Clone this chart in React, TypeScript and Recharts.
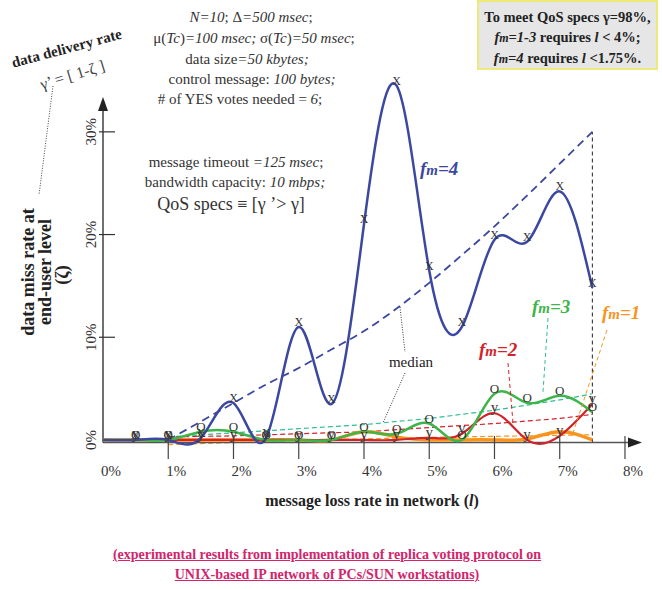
import React from "react";
import { ComposedChart, Line, XAxis, YAxis, ReferenceLine, ReferenceDot } from "recharts";

// message loss rate in network (%), one row per measured point
const lossRate = [0, 0.5, 1, 1.5, 2, 2.5, 3, 3.5, 4, 4.5, 5, 5.5, 6, 6.5, 7, 7.5];

// data miss rate at end-user level (%), per fault count fm
const fm4 = [0, 0, 0, 0.2, 3.6, 0.2, 11, 3.5, 21, 34.5, 16.5, 11, 19.5, 19.3, 24.2, 14.8];
const fm3 = [0, 0, 0, 0.8, 0.8, 0, 0, 0, 0.8, 0.6, 1.6, 0, 4.5, 3.6, 4.3, 2.7];
const fm2 = [0, 0, 0, 0, 0, 0, 0, 0, 0, 0, 0.2, 0.6, 2.6, 0, 0.4, 3.5];
const fm1 = [0, 0, 0, 0, 0, 0, 0, 0, 0.8, 0.3, 0, 0, 0, 0.1, 0.8, 0];

// median trend lines (start at 1%)
const med4 = [null, null, 0, 1.8, 3.6, 5.4, 7.0, 8.8, 10.6, 12.8, 15.3, 18.0, 20.8, 23.8, 26.9, 30];
const med3 = [null, null, 0.3, 0.5, 0.7, 0.9, 1.1, 1.3, 1.5, 1.8, 2.1, 2.5, 2.9, 3.4, 3.9, 4.5];
const med2 = [null, null, 0.3, 0.35, 0.4, 0.5, 0.6, 0.7, 0.8, 1.0, 1.2, 1.4, 1.6, 1.85, 2.1, 2.5];
const med1 = [null, null, -0.45, -0.35, -0.25, -0.15, -0.05, 0.05, 0.1, 0.18, 0.25, 0.3, 0.35, 0.4, 0.45, 0.5];

const xTicks = [0, 1, 2, 3, 4, 5, 6, 7, 8];
const yTicks = [0, 10, 20, 30];

const rows = lossRate.map((l, i) => ({
  l,
  fm4: fm4[i],
  fm3: fm3[i],
  fm2: fm2[i],
  fm1: fm1[i],
  med4: med4[i],
  med3: med3[i],
  med2: med2[i],
  med1: med1[i],
}));

const SERIF = "'Liberation Serif', 'DejaVu Serif', serif";
const BLUE = "#3c48a0";
const GREEN = "#3db54a";
const TEAL = "#2fbf91";
const RED = "#d2232a";
const ORANGE = "#f7941d";

const letterDot = (ch: string, size: number) => (props: any) => {
  const { cx, cy, index, payload } = props;
  if (cx == null || cy == null || payload.l < 0.5) return <g key={index} />;
  return (
    <text key={index} x={cx} y={cy - 1} textAnchor="middle" fontSize={size} fontFamily={SERIF} fill="#333">
      {ch}
    </text>
  );
};

const XTick = (props: any) => {
  const { x, payload } = props;
  const v = payload.value;
  return (
    <g>
      {v !== 0 && <line x1={x} x2={x} y1={436} y2={459} stroke="#444" strokeWidth={1.2} />}
      <text x={x + 8} y={476} textAnchor="middle" fontSize={15} fontFamily={SERIF} fill="#333">
        {v}%
      </text>
    </g>
  );
};

const YTick = (props: any) => {
  const { y, payload } = props;
  return (
    <g>
      {payload.value !== 0 && <line x1={99} x2={115} y1={y} y2={y} stroke="#333" strokeWidth={1.2} />}
      <text
        x={96}
        y={y}
        transform={`rotate(-90 96 ${y})`}
        textAnchor="middle"
        fontSize={15}
        fontFamily={SERIF}
        fill="#333"
      >
        {payload.value}%
      </text>
    </g>
  );
};

const Fm = ({ n, color, x, y }: { n: string; color: string; x: number; y: number }) => (
  <text x={x} y={y} fill={color} fontSize={19} fontWeight="bold" fontStyle="italic" fontFamily={SERIF}>
    f<tspan fontSize={15}>m</tspan>={n}
  </text>
);

export default function App() {
  return (
    <div style={{ position: "absolute", left: 0, top: 0, width: 662, height: 589, background: "#fff" }}>
      <ComposedChart
        width={662}
        height={589}
        data={rows}
        margin={{ top: 80.5, right: 4.4, bottom: 98.5, left: 73 }}
      >
        <XAxis
          type="number"
          dataKey="l"
          domain={[0, 8.5]}
          ticks={xTicks}
          interval={0}
          height={30}
          axisLine={false}
          tickLine={false}
          tick={<XTick />}
        />
        <YAxis
          type="number"
          domain={[-2, 35]}
          ticks={yTicks}
          interval={0}
          width={30}
          axisLine={false}
          tickLine={false}
          tick={<YTick />}
        />
        <ReferenceLine
          segment={[{ x: 7.5, y: -0.25 }, { x: 7.5, y: 30 }]}
          stroke="#222"
          strokeDasharray="4 3"
          strokeWidth={1}
          ifOverflow="visible"
        />
        <Line dataKey="med4" type="monotone" stroke={BLUE} strokeWidth={1.8} strokeDasharray="8 5" dot={false} isAnimationActive={false} />
        <Line dataKey="med3" type="monotone" stroke={TEAL} strokeWidth={1.2} strokeDasharray="5 3" dot={false} isAnimationActive={false} />
        <Line dataKey="med2" type="monotone" stroke={RED} strokeWidth={1.2} strokeDasharray="5 3" dot={false} isAnimationActive={false} />
        <Line dataKey="med1" type="monotone" stroke={ORANGE} strokeWidth={1.2} strokeDasharray="5 3" dot={false} isAnimationActive={false} />
        <ReferenceLine
          segment={[{ x: 0, y: -0.25 }, { x: 8.15, y: -0.25 }]}
          stroke="#555"
          strokeWidth={1.6}
          ifOverflow="visible"
        />
        <ReferenceLine
          segment={[{ x: 0, y: -0.25 }, { x: 0, y: 32.6 }]}
          stroke="#333"
          strokeWidth={1.4}
          ifOverflow="visible"
        />
        <ReferenceDot
          x={8.23}
          y={-0.25}
          ifOverflow="visible"
          shape={(p: any) => (
            <path d={`M${p.cx + 2},${p.cy} L${p.cx - 12},${p.cy - 5} L${p.cx - 12},${p.cy + 5} Z`} fill="#222" />
          )}
        />
        <ReferenceDot
          x={0}
          y={33.2}
          ifOverflow="visible"
          shape={(p: any) => (
            <path d={`M${p.cx},${p.cy - 2} L${p.cx - 5},${p.cy + 12} L${p.cx + 5},${p.cy + 12} Z`} fill="#222" />
          )}
        />
        <Line dataKey="fm1" type="natural" stroke={ORANGE} strokeWidth={3.5} dot={false} isAnimationActive={false} />
        <Line dataKey="fm2" type="natural" stroke={RED} strokeWidth={2.2} dot={letterDot("y", 15)} isAnimationActive={false} />
        <Line dataKey="fm3" type="natural" stroke={GREEN} strokeWidth={2.5} dot={letterDot("O", 13)} isAnimationActive={false} />
        <Line dataKey="fm4" type="natural" stroke={BLUE} strokeWidth={2.5} dot={letterDot("X", 12)} isAnimationActive={false} />
      </ComposedChart>

      <svg
        width={662}
        height={589}
        style={{ position: "absolute", left: 0, top: 0, pointerEvents: "none" }}
        fontFamily={SERIF}
      >
        <g fontSize={15} fill="#333" textAnchor="middle">
          <text x={251} y={22}>
            <tspan fontStyle="italic">N=10</tspan>; Δ<tspan fontStyle="italic">=500 msec</tspan>;
          </text>
          <text x={254} y={43}>
            μ(<tspan fontStyle="italic">Tc</tspan>)<tspan fontStyle="italic">=100 msec; </tspan>σ(
            <tspan fontStyle="italic">Tc</tspan>)<tspan fontStyle="italic">=50 msec</tspan>;
          </text>
          <text x={247} y={64}>
            data size<tspan fontStyle="italic">=50 kbytes;</tspan>
          </text>
          <text x={252} y={84}>
            control message: <tspan fontStyle="italic">100 bytes;</tspan>
          </text>
          <text x={240} y={104}>
            # of YES votes needed = <tspan fontStyle="italic">6</tspan>;
          </text>
          <text x={236} y={167}>
            message timeout <tspan fontStyle="italic">=125 msec</tspan>;
          </text>
          <text x={235} y={187}>
            bandwidth capacity: <tspan fontStyle="italic">10 mbps;</tspan>
          </text>
          <text x={231} y={210} fontSize={18}>
            QoS specs ≡ [γ ’&gt; γ]
          </text>
        </g>

        <text
          x={68}
          y={53}
          transform="rotate(-15 68 53)"
          textAnchor="middle"
          fontSize={15}
          fontWeight="bold"
          fill="#222"
        >
          data delivery rate
        </text>
        <text x={74} y={80} transform="rotate(-17 74 80)" textAnchor="middle" fontSize={16} fill="#444">
          γ’ =  [ 1-ζ ]
        </text>
        <line x1={53} y1={86} x2={39} y2={195} stroke="#444" strokeWidth={1} strokeDasharray="1 1.5" />

        <g fontSize={18} fontWeight="bold" fill="#222" textAnchor="middle">
          <text x={34} y={272} transform="rotate(-90 34 272)">
            data miss rate at
          </text>
          <text x={51} y={272} transform="rotate(-90 51 272)">
            end-user level
          </text>
          <text x={68} y={275} transform="rotate(-90 68 275)">
            (ζ)
          </text>
        </g>

        <text x={372} y={506} textAnchor="middle" fontSize={16} fontWeight="bold" fill="#222">
          message loss rate in network (<tspan fontStyle="italic">l</tspan>)
        </text>

        <Fm n="4" color={BLUE} x={420} y={175} />
        <Fm n="3" color={GREEN} x={532} y={313} />
        <Fm n="2" color={RED} x={479} y={356} />
        <Fm n="1" color={ORANGE} x={602} y={319} />

        <line x1={548} y1={318} x2={543} y2={392} stroke={TEAL} strokeWidth={1} strokeDasharray="4 3" />
        <line x1={508} y1={363} x2={513} y2={423} stroke={RED} strokeWidth={1} strokeDasharray="4 3" />
        <line x1={607} y1={330} x2={573} y2={433} stroke={ORANGE} strokeWidth={1} strokeDasharray="4 3" />

        <text x={411} y={367} textAnchor="middle" fontSize={15} fill="#222">
          median
        </text>
        <line x1={400} y1={307} x2={405} y2={352} stroke="#333" strokeWidth={1} strokeDasharray="1 1.5" />
        <line x1={405} y1={373} x2={383} y2={423} stroke="#333" strokeWidth={1} strokeDasharray="1 1.5" />
      </svg>

      <div
        style={{
          position: "absolute",
          left: 477,
          top: 0,
          width: 181,
          height: 70,
          background: "#e6e6e6",
          border: "2px solid #efe97a",
          fontFamily: SERIF,
          fontWeight: "bold",
          fontSize: 14.5,
          color: "#222",
          textAlign: "center",
          lineHeight: "20px",
          paddingTop: 5,
          boxSizing: "border-box",
        }}
      >
        <div>To meet QoS specs γ=98%,</div>
        <div>
          <i>
            f<span style={{ fontSize: 12 }}>m</span>=1-3
          </i>{" "}
          requires <i>l</i> &lt; 4%;
        </div>
        <div>
          <i>
            f<span style={{ fontSize: 12 }}>m</span>=4
          </i>{" "}
          requires <i>l</i> &lt;1.75%.
        </div>
      </div>

      <div
        style={{
          position: "absolute",
          left: 0,
          top: 545,
          width: 654,
          textAlign: "center",
          fontFamily: SERIF,
          fontWeight: "bold",
          fontSize: 14,
          lineHeight: "20px",
          color: "#d3246c",
          textDecoration: "underline",
        }}
      >
        <div>(experimental results from implementation of replica voting protocol on</div>
        <div>UNIX-based IP network of PCs/SUN workstations)</div>
      </div>
    </div>
  );
}
